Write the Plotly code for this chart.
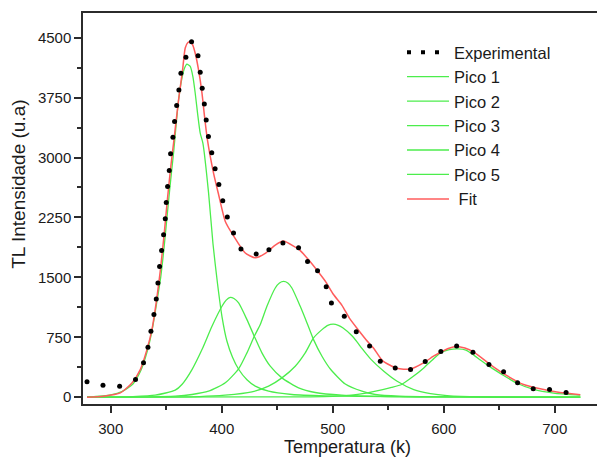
import plotly.graph_objects as go

# ---- data ----
exp_T = [278.6, 293.0, 308.0, 322.3, 329.5, 333.5, 336.2, 338.9, 341.0, 342.5, 344.0, 345.8, 347.6, 349.1,
         350.0, 351.2, 352.7, 353.9, 356.0, 357.5, 359.4, 361.4, 363.2, 367.7, 372.8, 378.6, 380.6, 382.4,
         384.3, 386.0, 388.0, 391.0, 394.0, 397.4, 400.9, 405.0, 410.6, 417.3, 431.0, 442.5, 455.1, 469.2,
         477.3, 486.3, 494.1, 498.8, 510.4, 521.2, 533.2, 542.8, 556.3, 570.1, 583.3, 597.4, 611.6, 626.3,
         640.7, 653.9, 666.5, 680.6, 695.3, 710.2]
exp_V = [192, 150, 137, 221, 430, 625, 825, 1034, 1230, 1430, 1637, 1837, 2034, 2234,
         2437, 2637, 2837, 3046, 3255, 3450, 3650, 3846, 4055, 4255, 4450, 4275, 4067, 3867,
         3669, 3471, 3263, 3060, 2861, 2661, 2459, 2255, 2055, 1855, 1792, 1846, 1930, 1870,
         1700, 1584, 1384, 1180, 1013, 819, 640, 450, 367, 346, 446, 573, 642, 563,
         409, 319, 180, 105, 96, 59]

fit_T = [278.6, 293.5, 308.6, 319.1, 326.6, 332.6, 337.1, 341.6, 344.6, 348.2, 351.2, 354.2, 356.6, 361.1,
         364.7, 367.1, 369.5, 371.5, 373.5, 376.1, 379.1, 382.2, 384.5, 387.0, 392.6, 397.1, 403.2, 410.6,
         421.2, 430.2, 439.2, 448.2, 455.7, 464.7, 470.7, 478.2, 485.8, 493.2, 500.7, 508.3, 515.0, 522.0,
         530.0, 537.0, 545.0, 557.8, 569.8, 581.8, 590.8, 596.8, 604.0, 611.9, 619.0, 626.8, 641.9, 656.9,
         671.9, 686.9, 701.9, 723.0]
fit_V = [0, 13, 54, 179, 346, 596, 846, 1250, 1580, 2050, 2500, 2900, 3180, 3721,
         4096, 4370, 4440, 4450, 4420, 4305, 4096, 3805, 3513, 3230, 2805, 2540, 2200, 2020,
         1805, 1745, 1800, 1905, 1955, 1890, 1835, 1720, 1590, 1455, 1285, 1150, 990, 860,
         720, 610, 455, 362, 352, 430, 513, 560, 610, 636, 615, 567, 409, 270,
         159, 105, 66, 32]

p1_T = [278.6, 300, 310, 320, 327, 333, 337, 341.6, 345, 348, 351, 354, 356.6, 358.5, 361.1, 364.1, 366.5,
        368.6, 371.6, 374.0, 376.1, 378.2, 380.6, 383.0, 388.1, 392.1, 396.2, 400.2, 404.7, 409.7, 415.2,
        422.7, 430.2, 442.2, 463.2, 493.2, 550, 650, 723]
p1_V = [0, 30, 70, 165, 330, 580, 820, 1200, 1500, 1870, 2300, 2720, 3060, 3350, 3720, 3990, 4120,
        4168, 4140, 4013, 3805, 3555, 3305, 3180, 2560, 1920, 1420, 1010, 700, 500, 350,
        218, 138, 75, 34, 17, 7, 3, 2]

p2_T = [278.6, 320, 340, 358.1, 364.1, 373.2, 382.2, 391.2, 400.2, 404.0, 407.7, 411.0, 415.2, 422.7,
        429.3, 436.2, 443.7, 454.2, 469.2, 484.2, 508.3, 550, 600, 723]
p2_V = [0, 8, 25, 88, 159, 346, 596, 888, 1138, 1215, 1250, 1235, 1180, 971,
        763, 555, 388, 242, 117, 59, 25, 8, 3, 0]

p3_T = [278.6, 330, 358, 373.2, 388.1, 403.2, 415.2, 422.7, 429.3, 434.7, 440.7, 448.2, 452.0, 455.7,
        459.5, 463.2, 470.7, 476.8, 482.7, 490.3, 498.0, 511.3, 526.3, 538.3, 560, 600, 723]
p3_V = [0, 4, 13, 34, 75, 180, 355, 555, 763, 909, 1138, 1367, 1430, 1450,
        1430, 1367, 1138, 930, 721, 513, 350, 165, 75, 34, 12, 4, 0]

p4_T = [278.6, 380, 403, 427.2, 442.2, 454.2, 466.2, 475.2, 482.7, 490.3, 495.5, 500.5, 505, 509,
        517.3, 522, 526.3, 534, 546, 558, 573, 588, 603, 633, 723]
p4_V = [0, 8, 25, 67, 138, 242, 388, 555, 742, 846, 900, 915, 900, 870,
        770, 690, 610, 480, 325, 200, 96, 46, 21, 4, 0]

p5_T = [278.6, 480, 500, 515, 530, 545, 553, 562, 572, 582, 590, 597, 605, 612.8, 620, 626.8, 633,
        640, 653, 666, 681, 699, 723]
p5_V = [0, 5, 10, 22, 50, 95, 122, 159, 255, 367, 470, 555, 595, 605, 590, 530, 465,
        395, 280, 175, 98, 52, 25]

x_ticks = [300, 400, 500, 600, 700]
x_minor = [350, 450, 550, 650, 750]
y_ticks = [0, 750, 1500, 2250, 3000, 3750, 4500]
y_minor = [375, 1125, 1875, 2625, 3375, 4125]

peaks = [("Pico 1", p1_T, p1_V), ("Pico 2", p2_T, p2_V), ("Pico 3", p3_T, p3_V),
         ("Pico 4", p4_T, p4_V), ("Pico 5", p5_T, p5_V)]

GREEN = "#4ced4c"
RED = "#ff5c5c"
AX = "#2b2b2b"
FONT = "Liberation Sans, Arial, sans-serif"

# page body has an 8px margin: lay the figure out so the plot lands where the reference has it
L, T, B = 75, 5, 67.5
W, H = 605, 464
PW = W - L
PH = H - T - B

fig = go.Figure()

# legend-only entry for the dotted experimental curve
fig.add_trace(go.Scatter(x=[None], y=[None], mode="lines", name="Experimental",
                         line=dict(color="black", width=4, dash="4px,10px")))

for name, t, v in peaks:
    fig.add_trace(go.Scatter(x=t, y=v, mode="lines", name=name,
                             line=dict(color=GREEN, width=1.3, shape="spline", smoothing=0.6)))

fig.add_trace(go.Scatter(x=fit_T, y=fit_V, mode="lines", name=" Fit",
                         line=dict(color=RED, width=1.5, shape="spline", smoothing=0.6)))

fig.add_trace(go.Scatter(x=exp_T, y=exp_V, mode="markers", name="Experimental", showlegend=False,
                         marker=dict(color="black", size=5, symbol="circle")))

fig.update_layout(
    width=W, height=H,
    margin=dict(l=L, r=0, t=T, b=B, pad=0),
    paper_bgcolor="white", plot_bgcolor="white",
    font=dict(family=FONT, color="#1a1a1a", size=15),
    showlegend=True,
    legend=dict(x=(402 - 83) / PW, y=1 - (35 - 13) / PH, xanchor="left", yanchor="top",
                bgcolor="rgba(0,0,0,0)", font=dict(size=16.5, family=FONT),
                tracegroupgap=0, itemwidth=42),
)

fig.update_xaxes(range=[275, 275 + PW / 1.11], tickvals=x_ticks, ticks="outside", ticklen=7, tickwidth=1.5,
                 tickcolor=AX, showline=True, linecolor=AX, linewidth=1.5, mirror=True,
                 showgrid=False, zeroline=False, tickfont=dict(size=15), ticklabelstandoff=3,
                 minor=dict(tickvals=x_minor, ticks="outside", ticklen=4, tickwidth=1.5, tickcolor=AX))
fig.update_yaxes(range=[-85, 4809], tickvals=y_ticks, ticks="outside", ticklen=7, tickwidth=1.5,
                 tickcolor=AX, showline=True, linecolor=AX, linewidth=1.5, mirror=False,
                 showgrid=False, zeroline=False, tickfont=dict(size=15),
                 minor=dict(tickvals=y_minor, ticks="outside", ticklen=4, tickwidth=1.5, tickcolor=AX))

fig.add_annotation(text="Temperatura (k)", xref="paper", yref="paper", x=(347 - 83) / PW,
                   y=-(448 - 404.5) / PH, xanchor="center", yanchor="middle", showarrow=False,
                   font=dict(size=18, family=FONT, color="#1a1a1a"))
fig.add_annotation(text="TL Intensidade (u.a)", xref="paper", yref="paper", x=(19 - 83) / PW,
                   y=(404.5 - 185) / PH, xanchor="center", yanchor="middle", textangle=-90,
                   showarrow=False, font=dict(size=19, family=FONT, color="#1a1a1a"))

fig.write_html("out.html")
